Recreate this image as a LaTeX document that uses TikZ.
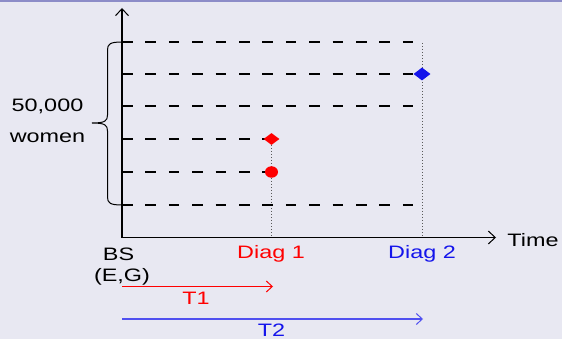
\documentclass[tikz,border=0pt]{standalone}
\usepackage{fontspec}
\setmainfont{Liberation Sans}
\usetikzlibrary{arrows.meta,shapes.geometric}
\definecolor{bg}{RGB}{232,232,242}
\definecolor{band}{RGB}{140,140,200}
\definecolor{myblue}{RGB}{20,20,235}
\definecolor{lineblue}{RGB}{80,80,240}
\definecolor{dotgray}{RGB}{90,90,90}
\newcommand{\wx}[1]{\scalebox{1.3}[1]{#1}}
\begin{document}
\begin{tikzpicture}[x=1pt,y=-1pt,
  lbl/.style={font=\fontsize{18}{21}\selectfont, inner sep=0pt, anchor=base},
  axis/.style={line width=1.2pt, -{Straight Barb[length=7pt,width=13pt,line width=1pt]}},
  dashline/.style={line width=2.2pt, dash pattern=on 10.5pt off 12.9pt},
  dotline/.style={line width=1pt, dotgray, dash pattern=on 1pt off 2pt},
  tarrow/.style={line width=1.2pt, -{Straight Barb[length=6pt,width=11pt,line width=1pt]}},
  pointmark/.style={inner sep=0pt, draw=none}
]
\fill[bg] (0,0) rectangle (562,339);
\fill[band] (0,0) rectangle (562,2.5);
\useasboundingbox (0,0) rectangle (562,339);

% coordinates
\coordinate (O) at (122,237.5);
\coordinate (ytop) at (122,8);
\coordinate (xend) at (496,237.5);
\foreach \i/\y in {1/42,2/74,3/106,4/139,5/172,6/205}{
  \coordinate (r\i s) at (122,\y);
}
\coordinate (r1e) at (413.5,42);
\coordinate (r3e) at (413.5,106);
\coordinate (r6e) at (413.5,205);
\coordinate (d1) at (271.5,237.5);
\coordinate (d2top) at (422,43);
\coordinate (d2) at (422,237.5);

% dotted verticals
\draw[dotline] (271.5,139) -- (d1);
\draw[dotline] (d2top) -- (d2);

% dashed rows
\draw[dashline] (r1s) -- (r1e);
\draw[dashline] (r2s) -- (416,74);
\draw[dashline] (r3s) -- (r3e);
\draw[dashline] (r4s) -- (266,139);
\draw[dashline] (r5s) -- (266,172);
\draw[dashline] (r6s) -- (r6e);

% markers
\node[pointmark, diamond, fill=red, minimum width=16pt, minimum height=12pt] (m1) at (271.5,139) {};
\node[pointmark, ellipse, fill=red, minimum width=13pt, minimum height=11.5pt] (m2) at (271.5,172) {};
\node[pointmark, diamond, fill=myblue, minimum width=17pt, minimum height=13pt] (m3) at (422,74) {};

% axes
\draw[axis] (O) -- (ytop);
\draw[axis] (O) -- (xend);

% brace
\draw[line width=1pt] (r1s) .. controls (110,42) and (107.5,44) .. (107.5,50)
  -- (107.5,115) .. controls (107.5,121) and (105,123) .. (92,123)
  .. controls (105,123) and (107.5,125) .. (107.5,131)
  -- (107.5,197) .. controls (107.5,203) and (110,205) .. (r6s);

% labels
\node[lbl] (n1) at (47.5,112) {\wx{50,000}};
\node[lbl] (n2) at (47.5,143) {\wx{women}};
\node[lbl] (time) at (533,246) {\wx{Time}};
\node[lbl] (bs) at (118.5,260) {\wx{BS}};
\node[lbl] (eg) at (122,281) {\wx{(E,G)}};
\node[lbl, text=red] (diag1) at (271,258) {\wx{Diag 1}};
\node[lbl, text=myblue] (diag2) at (422,258) {\wx{Diag 2}};

% time arrows
\coordinate (t1s) at (122,286.5);
\coordinate (t1e) at (273,286.5);
\coordinate (t2s) at (122,319);
\coordinate (t2e) at (423,319);
\draw[tarrow, red] (t1s) -- (t1e);
\draw[tarrow, lineblue] (t2s) -- (t2e);
\node[lbl, text=red] (T1) at (196,304) {\wx{T1}};
\node[lbl, text=myblue] (T2) at (271.5,336) {\wx{T2}};
\end{tikzpicture}
\end{document}
